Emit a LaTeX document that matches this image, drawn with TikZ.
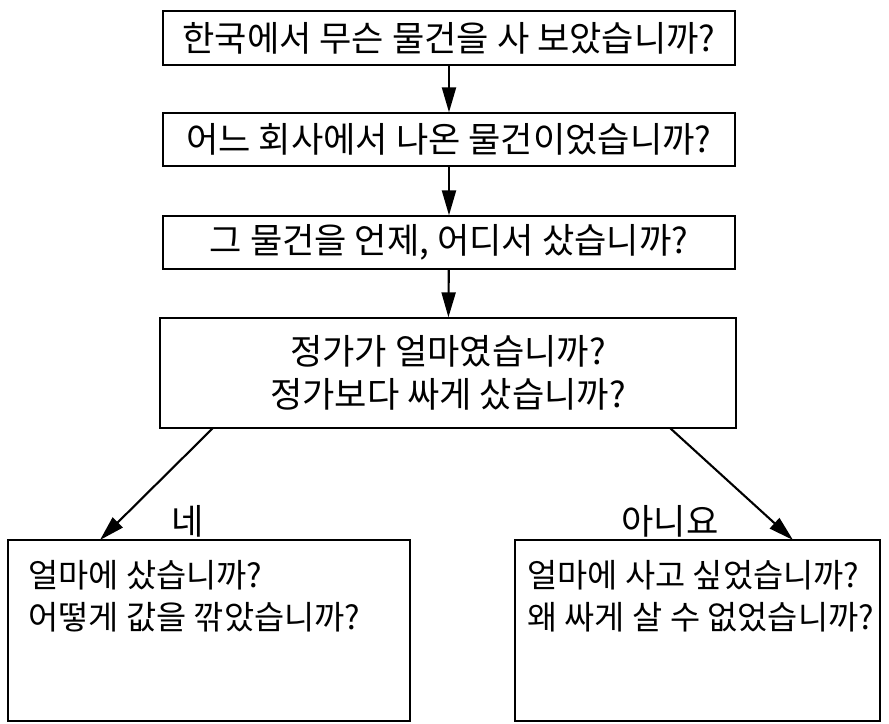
\documentclass[tikz,border=0pt]{standalone}
\usepackage{fontspec}
\usepackage{tikz}
\usetikzlibrary{arrows.meta, positioning}
\newfontfamily\kr{Noto Sans CJK KR}

\begin{document}
\begin{tikzpicture}[x=0.03cm, y=-0.03cm,
    qbox/.style={draw, line width=1.1pt, minimum width=17.16cm, minimum height=#1,
                 inner sep=0pt, font=\kr\fontsize{30}{34}\selectfont, align=center},
    abox/.style={draw, line width=1.1pt, minimum height=5.43cm, inner sep=0pt},
    atext/.style={anchor=north west, inner sep=0pt, align=left,
                  font=\kr\fontsize{28}{36}\selectfont},
    flow/.style={-{Triangle[length=0.75cm, width=0.42cm]}, line width=1.8pt},
    choice/.style={font=\kr\fontsize{30}{34}\selectfont}
]
    \useasboundingbox (0,0) rectangle (889,724);

    \node[qbox=1.62cm] (what) at (449,38) {한국에서 무슨 물건을 사 보았습니까?};
    \node[qbox=1.59cm] (maker) at (449,139.5) {어느 회사에서 나온 물건이었습니까?};
    \node[qbox=1.59cm] (when) at (449,242.5) {그 물건을 언제, 어디서 샀습니까?};
    \node[qbox=3.3cm, minimum width=17.28cm] (price) at (448,373)
        {정가가 얼마였습니까?\\[0.1cm]정가보다 싸게 샀습니까?};

    \node[abox, minimum width=12.06cm] (yesbox) at (209,630.5) {};
    \node[abox, minimum width=10.95cm] (nobox) at (697.5,630.5) {};
    \node[atext] (yestext) at (28,560) {얼마에 샀습니까?\\어떻게 값을 깎았습니까?};
    \node[atext] (notext) at (527,560) {얼마에 사고 싶었습니까?\\왜 싸게 살 수 없었습니까?};

    \coordinate (yesfrom) at (213,428);
    \coordinate (yesto) at (100,540);
    \coordinate (nofrom) at (670,428);
    \coordinate (noto) at (793,540);

    \draw[flow] (what) -- (maker);
    \draw[flow] (maker) -- (when);
    \draw[flow] (when) -- (price);
    \draw[flow] (yesfrom) -- (yesto);
    \draw[flow] (nofrom) -- (noto);

    \node[choice] (yes) at (188,521) {네};
    \node[choice] (no) at (670,521) {아니요};
\end{tikzpicture}
\end{document}
